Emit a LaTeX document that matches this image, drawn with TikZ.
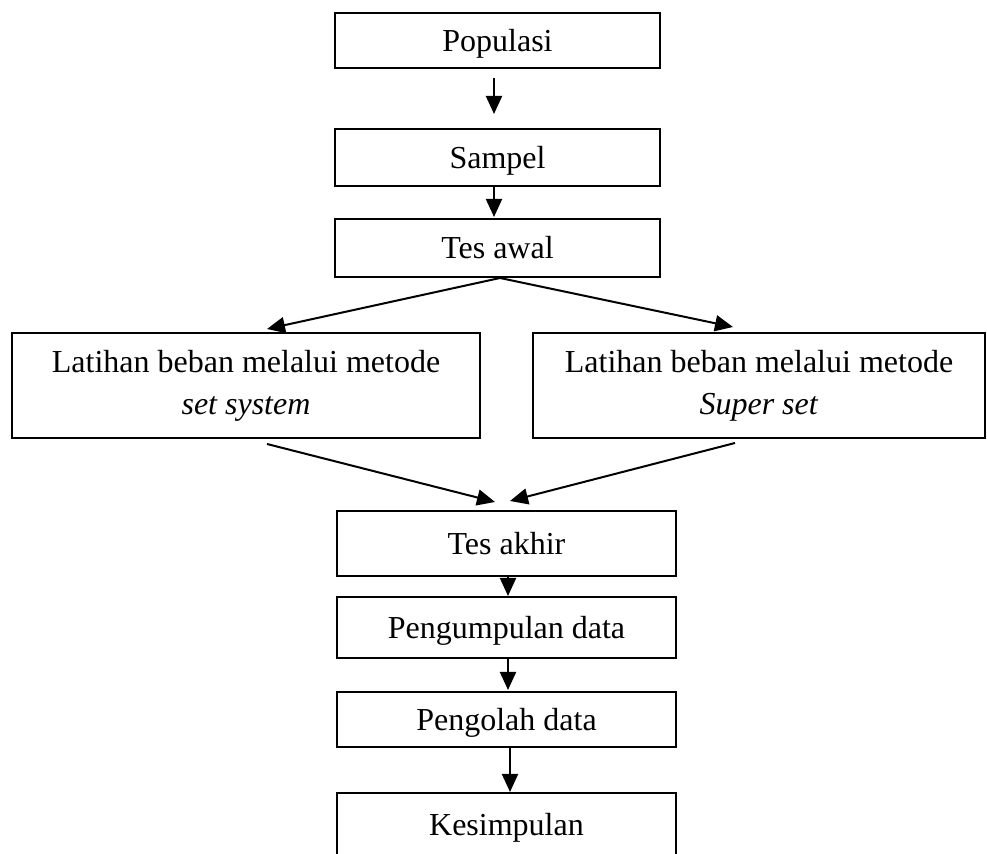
\documentclass[tikz,border=0pt]{standalone}
\usepackage{fontspec}
\setmainfont{Liberation Serif}
\usetikzlibrary{arrows.meta,calc}
\begin{document}
\begin{tikzpicture}[x=0.5pt,y=-0.5pt,
  box/.style={draw,line width=1pt,rectangle,inner sep=0pt,align=center,font=\fontsize{16}{21}\selectfont},
  one/.style={box,text height=11pt,text depth=0pt},
  arr/.style={line width=1pt,-{Triangle[length=9pt,width=8pt]}}]
\useasboundingbox (0,0) rectangle (987,854);
\clip (0,0) rectangle (987,854);
\node[one,minimum width=162.5pt,minimum height=27.5pt] (pop) at (497.5,40.5) {Populasi};
\node[one,minimum width=162.5pt,minimum height=28.5pt] (sam) at (497.5,157.5) {Sampel};
\node[one,minimum width=162.5pt,minimum height=29pt] (awal) at (497.5,248) {Tes awal};
\node[box,minimum width=234pt,minimum height=52.5pt] (left) at (246,385.5) {Latihan beban melalui metode\\\textit{set system}};
\node[box,minimum width=226pt,minimum height=52.5pt] (right) at (759,385.5) {Latihan beban melalui metode\\\textit{Super set}};
\node[one,minimum width=169.5pt,minimum height=32.5pt] (akhir) at (506.5,543.5) {Tes akhir};
\node[one,minimum width=169.5pt,minimum height=30.5pt] (kumpul) at (506.5,627.5) {Pengumpulan data};
\node[one,minimum width=169.5pt,minimum height=27.5pt] (olah) at (506.5,719.5) {Pengolah data};
\node[one,minimum width=169.5pt,minimum height=32pt] (simpul) at (506.5,825) {Kesimpulan};
\draw[arr] ($(pop.south)+(-3.5,9)$) -- ($(sam.north)+(-3.5,-14)$);
\draw[arr] ($(sam.south)+(-3.5,0)$) -- ($(awal.north)+(-3.5,-1)$);
\draw[arr] ($(awal.south)+(2.5,0)$) -- ($(left.north)+(21,-3)$);
\draw[arr] ($(awal.south)+(2.5,0)$) -- ($(right.north)+(-26,-5)$);
\draw[arr] ($(left.south)+(21,5)$) -- ($(akhir.north)+(-11.5,-8)$);
\draw[arr] ($(right.south)+(-24,4)$) -- ($(akhir.north)+(3.5,-9)$);
\draw[arr] ($(akhir.south)+(1.5,0)$) -- ($(kumpul.north)+(1.5,0)$);
\draw[arr] ($(kumpul.south)+(1.5,0)$) -- ($(olah.north)+(1.5,-1)$);
\draw[arr] ($(olah.south)+(3.5,0)$) -- ($(simpul.north)+(3.5,0)$);
\end{tikzpicture}
\end{document}
